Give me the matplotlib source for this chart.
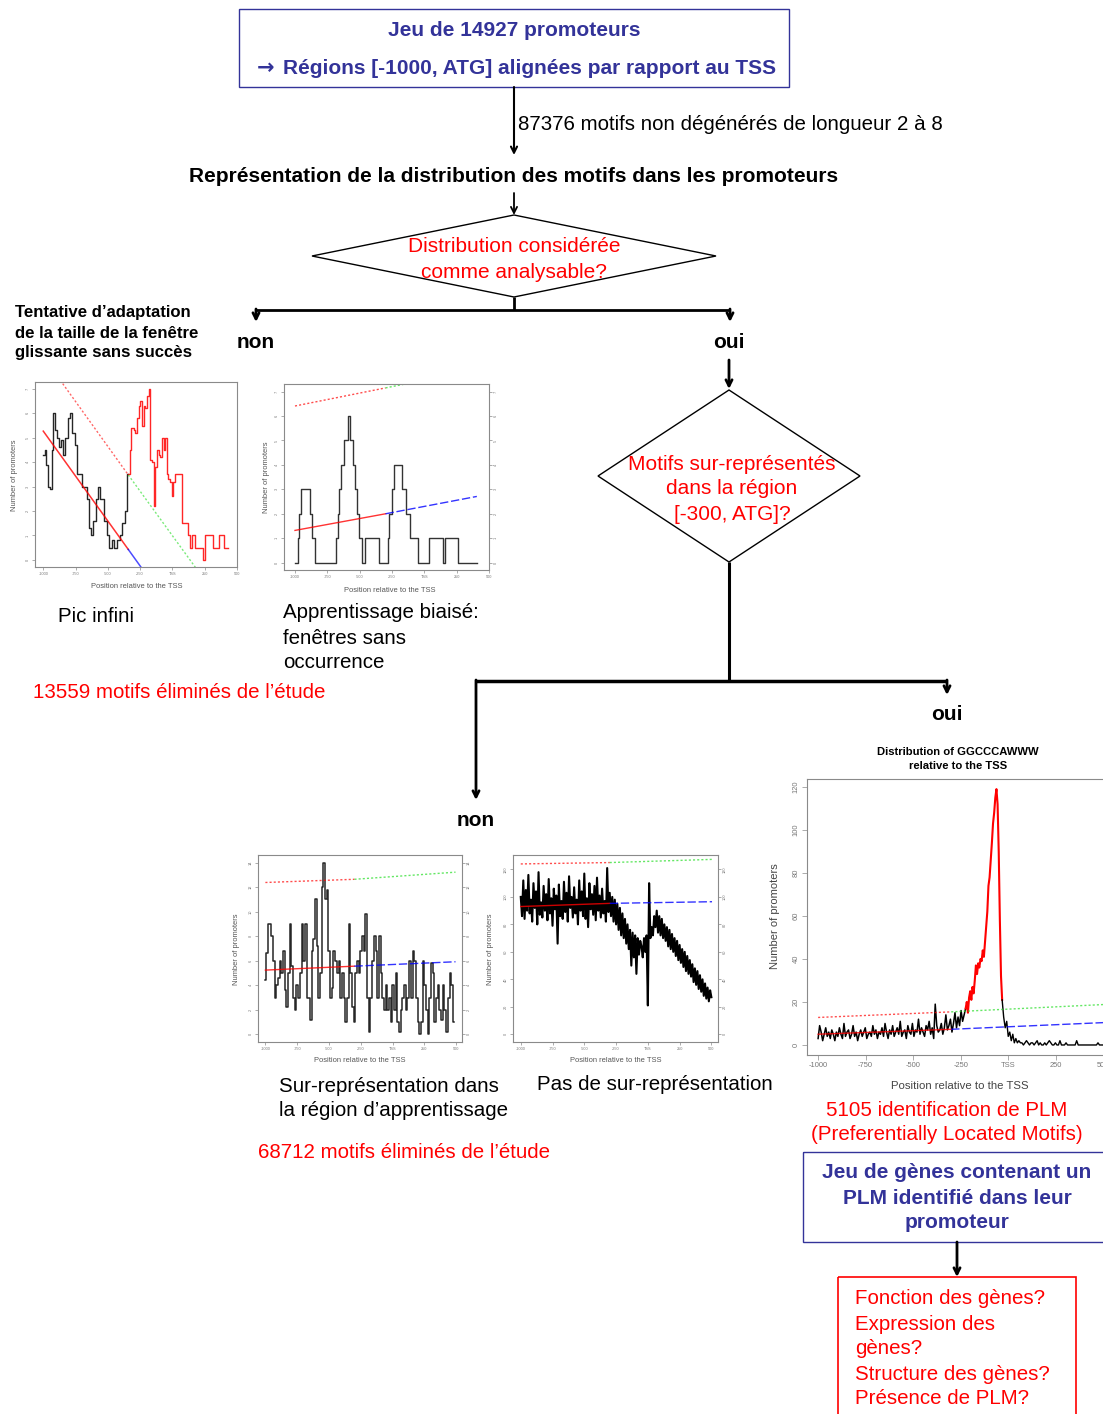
import numpy as np
import matplotlib
matplotlib.use('Agg')
import matplotlib.pyplot as plt
from matplotlib.patches import Rectangle, Polygon

plt.rcParams['font.family'] = ['Liberation Sans', 'DejaVu Sans']

W, H = 1103, 1414
BLUE = '#333399'
RED = '#ff0000'

XT = [-1000, -750, -500, -250, 0, 250, 500]
XT_LAB = ['-1000', '-750', '-500', '-250', 'TSS', '250', '500']

# ---------------- data: plot 1 ("Pic infini") ----------------
p1_black_pos = [-1000, -987, -975, -962, -949, -936, -923, -911, -893, -878, -860, -847,
                -829, -809, -791, -776, -758, -740, -699, -663, -648, -630, -612, -592,
                -577, -561, -526, -510, -490, -470, -452, -426, -408, -388, -368, -350, -342]
p1_black_val = [4.3, 4.5, 3.9, 3.0, 2.9, 4.5, 6.0, 5.3, 5.0, 4.6, 4.9, 4.3,
                5.0, 5.8, 6.0, 5.2, 4.7, 3.5, 3.0, 2.5, 1.3, 1.0, 1.6, 2.5,
                3.0, 2.5, 1.6, 1.0, 0.5, 0.8, 0.5, 0.8, 1.0, 1.5, 2.0, 3.5, 3.5]
p1_red_pos = [-342, -332, -317, -301, -286, -273, -260, -248, -235, -222, -210, -197,
              -184, -171, -159, -146, -133, -120, -107, -95, -82, -69, -56, -44,
              -31, -18, -5, 7, 20, 76, 117, 135, 155, 173, 237, 250, 313, 364, 403, 433]
p1_red_val = [3.5, 4.5, 5.4, 5.3, 5.2, 5.8, 6.3, 6.5, 5.5, 6.3, 6.2, 6.7,
              7.0, 4.1, 4.0, 2.2, 3.8, 4.5, 4.3, 4.2, 5.0, 4.5, 5.0, 3.5,
              3.3, 3.2, 2.6, 3.2, 3.5, 1.5, 1.0, 0.5, 1.0, 0.5, 0.0, 1.0, 0.5, 1.0, 0.5, 0.5]
p1_fit_x = [-1000, -342, -240]
p1_fit_y = [5.27, 0.43, -0.32]
p1_thr_x = [-1000, -342, 180]
p1_thr_y = [8.32, 3.48, -0.32]

# ---------------- data: plot 2 ("Apprentissage biaisé") ----------------
p2_pos = [-1000, -980, -968, -955, -881, -869, -849, -683, -671, -658, -646, -621,
          -589, -577, -552, -535, -517, -503, -485, -460, -349, -282, -270, -250,
          -233, -176, -139, -114, -52, 35, 146, 163, 257, 406]
p2_val = [0, 1, 2, 3, 2, 1, 0, 1, 2, 3, 4, 5,
          6, 5, 4, 3, 2, 1, 0, 1, 0, 1, 2, 3,
          4, 3, 2, 1, 0, 1, 0, 1, 0, 0]
p2_fit_x = [-1000, -300, 406]
p2_fit_y = [1.32, 2.00, 2.71]
p2_thr_x = [-1000, -300, 406]
p2_thr_y = [6.41, 7.15, 7.90]

# ---------------- data: plot 4 ("Sur-représentation dans la région d'apprentissage") ----------------
p4_val = [2.2, 3.3, 4.5, 4.5, 4.0, 3.0, 1.5, 2.0, 2.3, 3.0, 2.5, 3.4, 1.8, 1.1, 2.5, 4.5,
          2.8, 1.5, 1.0, 2.0, 1.5, 2.5, 4.5, 3.0, 4.5, 1.5, 1.5, 0.6, 3.4, 3.9, 5.5, 3.6,
          1.5, 2.5, 6.0, 7.0, 5.5, 5.9, 3.4, 1.5, 1.9, 3.4, 3.0, 2.5, 3.0, 1.5, 2.5, 1.5,
          0.5, 1.5, 4.5, 2.5, 1.1, 0.5, 2.5, 3.0, 2.5, 3.4, 4.0, 3.4, 4.9, 1.5, 0.1, 1.5,
          3.0, 4.0, 3.4, 1.5, 4.0, 2.5, 1.5, 1.0, 2.0, 1.0, 1.5, 0.5, 2.0, 1.0, 2.5, 0.5,
          0.1, 1.0, 1.5, 2.0, 1.0, 1.5, 3.0, 1.5, 3.4, 3.0, 1.5, 0.5, 0.0, 0.5, 3.0, 2.0,
          1.0, 0.0, 1.5, 2.9, 2.5, 0.5, 1.5, 2.0, 1.0, 0.6, 2.0, 1.0, 0.1, 1.5, 2.5, 2.0, 0.5]
p4_pos = np.linspace(-1000, 480, len(p4_val))
p4_fit_x = [-1000, -300, 494]
p4_fit_y = [2.62, 2.78, 2.96]
p4_thr_x = [-1000, -300, 494]
p4_thr_y = [6.19, 6.32, 6.61]

# ---------------- data: plot 5 ("Pas de sur-représentation") ----------------
p5_val = [100, 86, 112, 84, 105, 90, 116, 88, 98, 82, 110, 92, 104, 80, 118, 87, 96, 85, 108, 90,
          102, 83, 113, 88, 99, 79, 106, 91, 101, 66, 109, 86, 97, 84, 111, 89, 103, 82, 115, 92,
          100, 85, 107, 88, 98, 80, 112, 90, 104, 86, 117, 84, 99, 78, 110, 91, 102, 87, 108, 83,
          114, 90, 101, 85, 106, 88, 97, 82, 121, 89,
          103, 86, 100, 82, 98, 80, 95, 76, 92, 72, 88, 70, 84, 66, 80, 62, 76, 50, 74, 56,
          72, 44, 70, 58, 68,
          64, 56, 70, 60, 72, 21, 110, 70, 78, 72, 86, 78,
          90, 74, 86, 72, 84, 70, 80, 68, 78, 64, 76, 62, 73, 60, 70, 57, 68, 54, 65, 52,
          62, 49, 60, 46, 57, 44, 54, 42, 51, 38, 48, 36, 46, 33, 43, 31, 40, 28, 37, 26,
          34, 24, 32, 27]
p5_pos = np.linspace(-1000, 500, len(p5_val))
p5_fit_x = [-1000, -300, 505]
p5_fit_y = [93.0, 95.3, 96.5]
p5_thr_x = [-1000, -300, 505]
p5_thr_y = [124.0, 125.0, 127.3]

# ---------------- data: plot 3 (GGCCCAWWW) ----------------
p3_base_val = [3, 9, 6, 2, 5, 8, 4, 6, 3, 7, 5, 2, 6, 4, 8, 5, 3, 10, 4, 6,
               7, 3, 5, 9, 4, 6, 2, 5, 7, 4, 6, 8, 3, 5, 6, 4, 9, 5, 7, 3,
               6, 5, 8, 4, 10, 6, 3, 7, 5, 9, 4, 6, 8, 5, 11, 4, 6, 7, 3, 9,
               6, 5, 10, 4, 7, 6, 12, 5, 8, 6, 4, 9, 7, 11, 5, 8, 3, 19, 9, 6,
               7, 10, 5, 8, 14, 7, 9, 12, 6, 10, 15, 8, 13, 9, 16, 11, 14, 17]
p3_base_pos = np.linspace(-1000, -224, len(p3_base_val))
p3_peak_val = [17, 20, 15, 22, 25, 21, 27, 24, 30, 37, 33, 38, 36, 40, 39, 44, 41,
               48, 55, 62, 74, 78, 86, 94, 103, 108, 115, 119, 112, 90, 58, 32, 21]
p3_peak_pos = np.linspace(-224, -32, len(p3_peak_val))
p3_tail_val = [21, 13, 8, 11, 4, 6, 2, 5, 1, 3, 1, 2, 1, 1, 0, 1, 2, 1, 0, 1,
               1, 0, 1, 2, 0, 1, 0, 0, 1, 0, 1, 2, 1, 0, 0, 1, 0, 0, 2, 0,
               0, 0, 1, 0, 0, 0, 0, 0, 0, 2, 0, 0, 0, 0, 0, 0, 0, 0, 0, 0,
               0, 0, 0, 1, 0, 0, 0]
p3_tail_pos = np.linspace(-32, 496, len(p3_tail_val))
p3_fit_x = [-1000, -300, 500]
p3_fit_y = [5.0, 7.3, 10.4]
p3_thr_x = [-1000, -300, 500]
p3_thr_y = [12.8, 15.4, 18.8]

# ---------------- figure ----------------
fig = plt.figure(figsize=(W / 100, H / 100), dpi=100)
ax = fig.add_axes([0, 0, 1, 1])
ax.set_xlim(0, W)
ax.set_ylim(H, 0)
ax.axis('off')

FS = 14.8   # regular body text
FB = 15     # bold headers


def T(x, y, s, ha='left', color='black', size=FS, weight='normal', **kw):
    ax.text(x, y, s, ha=ha, va='center', color=color, fontsize=size, fontweight=weight, **kw)


def arrow(x, y0, y1, lw=1.5):
    ax.annotate('', xy=(x, y1), xytext=(x, y0),
                arrowprops=dict(arrowstyle='->', lw=lw, color='black',
                                shrinkA=0, shrinkB=0, mutation_scale=11))


def line(xs, ys, lw=2.0):
    ax.plot(xs, ys, color='black', lw=lw, solid_capstyle='butt')


# top box
ax.add_patch(Rectangle((239, 9), 550, 78, fill=False, edgecolor=BLUE, lw=1.0))
T(514, 30, 'Jeu de 14927 promoteurs', ha='center', color=BLUE, weight='bold', size=FB)
T(266, 68, '\u2192', ha='center', color=BLUE, weight='bold', size=15, family='DejaVu Sans')
T(283, 68, 'Régions [-1000, ATG] alignées par rapport au TSS', color=BLUE, weight='bold', size=FB)

arrow(514, 87, 155, lw=1.5)
T(518, 124, '87376 motifs non dégénérés de longueur 2 à 8')
T(514, 176, 'Représentation de la distribution des motifs dans les promoteurs',
  ha='center', weight='bold', size=FB)
arrow(514, 193, 215, lw=1.3)

# diamond 1
ax.add_patch(Polygon([(514, 215), (716, 256), (514, 297), (312, 256)], closed=True,
                     fill=False, edgecolor='black', lw=1.0))
T(514, 246, 'Distribution considérée', ha='center', color=RED, size=15)
T(514, 272, 'comme analysable?', ha='center', color=RED, size=15)

line([514, 514], [297, 310])
line([256, 730], [310, 310])
arrow(256, 309, 322, lw=2)
arrow(730, 309, 322, lw=2)
T(256, 342, 'non', ha='center', weight='bold', size=FB)
T(729, 343, 'oui', ha='center', weight='bold', size=FB)

T(15, 313, 'Tentative d\u2019adaptation', weight='bold', size=12.1)
T(15, 333, 'de la taille de la fenêtre', weight='bold', size=12.1)
T(15, 353, 'glissante sans succès', weight='bold', size=12.1)

# diamond 2
arrow(729, 360, 389, lw=2)
ax.add_patch(Polygon([(729, 390), (860, 476), (729, 562), (598, 476)], closed=True,
                     fill=False, edgecolor='black', lw=1.0))
T(732, 464, 'Motifs sur-représentés', ha='center', color=RED, size=15)
T(732, 489, 'dans la région', ha='center', color=RED, size=15)
T(732, 514, '[-300, ATG]?', ha='center', color=RED, size=15)

line([729, 729], [562, 681], lw=2.2)
line([476, 947], [681, 681], lw=2.5)
arrow(476, 680, 800, lw=2)
arrow(947, 680, 695, lw=2)
T(947, 715, 'oui', ha='center', weight='bold', size=FB)
T(476, 821, 'non', ha='center', weight='bold', size=FB)

# captions
T(58, 616, 'Pic infini')
T(283, 612, 'Apprentissage biaisé:')
T(283, 638, 'fenêtres sans')
T(283, 663, 'occurrence')
T(33, 693, '13559 motifs éliminés de l\u2019étude', color=RED)

T(279, 1086, 'Sur-représentation dans')
T(279, 1110, 'la région d\u2019apprentissage')
T(537, 1084, 'Pas de sur-représentation')
T(258, 1153, '68712 motifs éliminés de l\u2019étude', color=RED)

T(947, 1110, '5105 identification de PLM', ha='center', color=RED)
T(947, 1135, '(Preferentially Located Motifs)', ha='center', color=RED)

ax.add_patch(Rectangle((803, 1152), 320, 90, fill=False, edgecolor=BLUE, lw=1.0))
T(957, 1173, 'Jeu de gènes contenant un', ha='center', color=BLUE, weight='bold', size=FB)
T(957, 1198, 'PLM identifié dans leur', ha='center', color=BLUE, weight='bold', size=FB)
T(957, 1223, 'promoteur', ha='center', color=BLUE, weight='bold', size=FB)
arrow(957, 1242, 1277, lw=2)

ax.add_patch(Rectangle((838, 1277), 238, 160, fill=False, edgecolor=RED, lw=1.2))
for i, s in enumerate(['Fonction des gènes?', 'Expression des', 'gènes?',
                       'Structure des gènes?', 'Présence de PLM?']):
    T(855, 1299 + 25 * i, s, color=RED)

T(958, 752, 'Distribution of GGCCCAWWW', ha='center', weight='bold', size=8.1)
T(958, 766, 'relative to the TSS', ha='center', weight='bold', size=8.1)


# ---------------- inset R-style plots ----------------
def inset(x0, y0, x1, y1):
    return fig.add_axes([x0 / W, 1 - y1 / H, (x1 - x0) / W, (y1 - y0) / H])


def rstyle(a, xlim, ylim, yt, ylab, fs, right=False, tl=2.0):
    a.set_xlim(xlim)
    a.set_ylim(ylim)
    a.set_facecolor('white')
    for s in a.spines.values():
        s.set_color('#8a8a8a')
        s.set_linewidth(0.8)
    a.set_xticks(XT)
    a.set_xticklabels(XT_LAB)
    a.set_yticks(yt)
    a.set_yticklabels(ylab, rotation=90, va='center')
    a.tick_params(direction='out', length=tl, width=0.5, color='#8a8a8a',
                  labelsize=fs, labelcolor='#777777', pad=1.5)
    if right:
        a.tick_params(right=True, labelright=True)


def trend(a, fx, fy, tx, ty):
    a.plot(fx[:2], fy[:2], color=RED, lw=1.0, alpha=0.8)
    a.plot(fx[1:], fy[1:], color='blue', lw=1.0, ls=(0, (6, 2)), alpha=0.8)
    a.plot(tx[:2], ty[:2], color=RED, lw=1.0, ls=(0, (1.5, 1.5)), alpha=0.7)
    a.plot(tx[1:], ty[1:], color='#22dd22', lw=1.0, ls=(0, (1.5, 1.5)), alpha=0.7)


LAB_C = '#555555'
SMALL_LAB = 5.4

# plot 1
a1 = inset(35, 382, 237, 567)
a1.plot(p1_black_pos, p1_black_val, color='black', lw=1.0, drawstyle='steps-post', alpha=0.85)
a1.plot(p1_red_pos, p1_red_val, color=RED, lw=1.0, drawstyle='steps-post', alpha=0.85)
a1.plot(p1_fit_x[:2], p1_fit_y[:2], color=RED, lw=1.1, alpha=0.8)
a1.plot(p1_fit_x[1:], p1_fit_y[1:], color='blue', lw=1.1, alpha=0.7)
a1.plot(p1_thr_x[:2], p1_thr_y[:2], color=RED, lw=1.0, ls=(0, (1.5, 1.5)), alpha=0.6)
a1.plot(p1_thr_x[1:], p1_thr_y[1:], color='#22dd22', lw=1.0, ls=(0, (1.5, 1.5)), alpha=0.6)
rstyle(a1, (-1064, 492), (-0.29, 7.28), range(8), [str(v) for v in range(8)], 2.8)
T(137, 587, 'Position relative to the TSS', ha='center', size=SMALL_LAB, color=LAB_C)
T(14, 475, 'Number of promoters', ha='center', size=SMALL_LAB, color=LAB_C, rotation=90)

# plot 2
a2 = inset(284, 384, 489, 570)
a2.plot(p2_pos, p2_val, color='black', lw=1.0, drawstyle='steps-post', alpha=0.8)
trend(a2, p2_fit_x, p2_fit_y, p2_thr_x, p2_thr_y)
rstyle(a2, (-1085, 452), (-0.3, 7.31), range(8), [str(v) for v in range(8)], 2.8, right=True)
T(390, 590, 'Position relative to the TSS', ha='center', size=SMALL_LAB, color=LAB_C)
T(266, 477, 'Number of promoters', ha='center', size=SMALL_LAB, color=LAB_C, rotation=90)

# plot 4
a4 = inset(258, 855, 462, 1042)
a4.plot(p4_pos, p4_val, color='black', lw=1.1, drawstyle='steps-mid', alpha=0.85)
trend(a4, p4_fit_x, p4_fit_y, p4_thr_x, p4_thr_y)
rstyle(a4, (-1058, 545), (-0.31, 7.31), range(8), [str(2 * v) for v in range(8)], 2.8, right=True)
T(360, 1061, 'Position relative to the TSS', ha='center', size=SMALL_LAB, color=LAB_C)
T(236, 949, 'Number of promoters', ha='center', size=SMALL_LAB, color=LAB_C, rotation=90)

# plot 5
a5 = inset(513, 855, 718, 1042)
a5.plot(p5_pos, p5_val, color='black', lw=1.5)
trend(a5, p5_fit_x, p5_fit_y, p5_thr_x, p5_thr_y)
rstyle(a5, (-1061, 552), (-5.6, 130.5), range(0, 121, 20), [str(v) for v in range(0, 121, 20)],
       2.8, right=True)
T(616, 1061, 'Position relative to the TSS', ha='center', size=SMALL_LAB, color=LAB_C)
T(491, 949, 'Number of promoters', ha='center', size=SMALL_LAB, color=LAB_C, rotation=90)

# plot 3 (large)
a3 = inset(806.7, 778.8, 1114.7, 1055.3)
a3.plot(p3_base_pos, p3_base_val, color='black', lw=1.1)
a3.plot(p3_peak_pos, p3_peak_val, color=RED, lw=1.5)
a3.plot(p3_tail_pos, p3_tail_val, color='black', lw=1.0)
trend(a3, p3_fit_x, p3_fit_y, p3_thr_x, p3_thr_y)
rstyle(a3, (-1060, 560), (-4.8, 123.8), range(0, 121, 20), [str(v) for v in range(0, 121, 20)],
       5.4, tl=3.5)
T(960, 1086, 'Position relative to the TSS', ha='center', size=8.2, color='#444444')
T(775, 916, 'Number of promoters', ha='center', size=8.0, color='#444444', rotation=90)

fig.savefig('out.png', dpi=100)
